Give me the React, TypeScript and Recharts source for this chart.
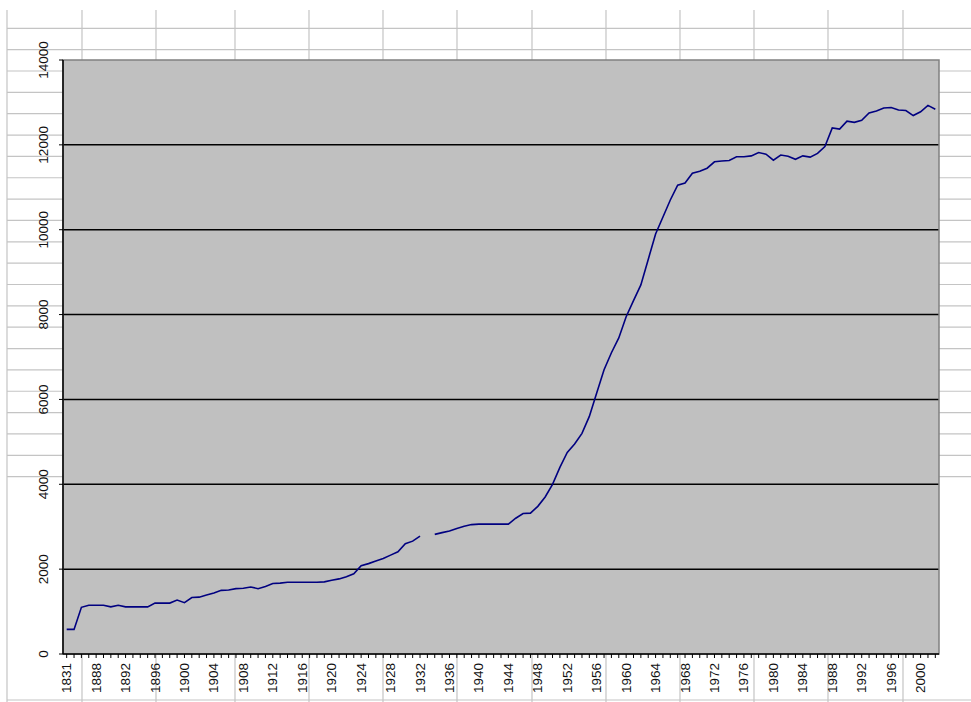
import { LineChart, Line, XAxis, YAxis, CartesianGrid, ReferenceArea } from 'recharts';

// categories: one early year, then every year from 1885
const years = ['1831', ...Array.from({ length: 118 }, (_, i) => String(1885 + i))];

const values: (number | null)[] = [
  580, 580, 1100, 1150, 1150, 1150, 1110, 1150, 1110, 1110,
  1110, 1110, 1200, 1200, 1200, 1270, 1210, 1330, 1340, 1390,
  1440, 1500, 1510, 1540, 1550, 1580, 1540, 1590, 1660, 1670,
  1690, 1690, 1690, 1690, 1690, 1700, 1740, 1770, 1820, 1890,
  2080, 2130, 2190, 2250, 2330, 2410, 2600, 2660, 2780, null,
  2820, 2860, 2900, 2960, 3010, 3050, 3060, 3060, 3060, 3060,
  3060, 3200, 3310, 3320, 3480, 3700, 4000, 4400, 4750, 4950,
  5200, 5600, 6150, 6700, 7100, 7450, 7950, 8330, 8700, 9300,
  9900, 10300, 10700, 11050, 11100, 11330, 11380, 11450, 11600, 11620,
  11630, 11720, 11720, 11740, 11820, 11780, 11640, 11760, 11730, 11660,
  11740, 11710, 11800, 11960, 12400, 12370, 12560, 12530, 12580, 12750,
  12800, 12870, 12880, 12820, 12810, 12690, 12780, 12930, 12840,
];

const yTicks = [0, 2000, 4000, 6000, 8000, 10000, 12000, 14000];
const gridValues = [2000, 4000, 6000, 8000, 10000, 12000];

const data = years.map((year, i) => ({ year, value: values[i] }));

const W = 971;
const H = 702;
const font = 'Arial, "Liberation Sans", sans-serif';

// spreadsheet cell lines behind the chart
const colLines = [7, 82, 156, 235, 309, 383, 457, 532, 606, 680, 754, 828, 903];
const rowLines = Array.from({ length: 22 }, (_, i) => 28.3 + i * 21.35);

function XTick(props: any) {
  const { x, y, index, payload } = props;
  const tx = x + 4.5;
  const ty = y + 9;
  return (
    <g>
      <line x1={x} y1={y} x2={x} y2={y + 4} stroke='#000' />
      {index % 4 === 0 && (
        <text x={tx} y={ty} transform={`rotate(-90, ${tx}, ${ty})`} textAnchor='end' fontSize={13.5} fontFamily={font} fill='#111'>
          {payload.value}
        </text>
      )}
    </g>
  );
}

function YTick(props: any) {
  const { x, y, payload } = props;
  const tx = x - 15;
  return (
    <g>
      <line x1={x - 4} y1={y} x2={x} y2={y} stroke='#000' />
      <text x={tx} y={y} transform={`rotate(-90, ${tx}, ${y})`} textAnchor='middle' fontSize={13.5} fontFamily={font} fill='#111'>
        {payload.value}
      </text>
    </g>
  );
}

export default function App() {
  return (
    <div style={{ position: 'absolute', left: 0, top: 0, width: W, height: H, background: '#fff', overflow: 'hidden' }}>
      <svg width={W} height={H} style={{ position: 'absolute', left: 0, top: 0 }}>
        {colLines.map((x) => (
          <line key={'c' + x} x1={x} y1={10} x2={x} y2={H} stroke='#c4c4c4' strokeWidth={1.2} />
        ))}
        {rowLines.map((y) => (
          <line key={'r' + y} x1={7} y1={y} x2={W} y2={y} stroke='#c4c4c4' strokeWidth={1.2} />
        ))}
        <line x1={7} y1={700} x2={W} y2={700} stroke='#c4c4c4' strokeWidth={1.2} />
      </svg>
      <div style={{ position: 'absolute', left: 0, top: 0 }}>
        <LineChart width={W} height={H} data={data} margin={{ top: 60, right: 32, bottom: 0, left: 0 }}>
          <CartesianGrid fill='#c0c0c0' stroke='#000' strokeWidth={1.5} vertical={false} horizontalValues={gridValues} />
          <ReferenceArea y1={0} y2={14000} fill='none' stroke='#808080' strokeWidth={1.5} ifOverflow='visible' />
          <XAxis
            dataKey='year'
            scale='band'
            interval={0}
            height={48}
            tickSize={0}
            tickMargin={0}
            tickLine={false}
            axisLine={{ stroke: '#000', strokeWidth: 1.5 }}
            tick={<XTick />}
          />
          <YAxis
            domain={[0, 14000]}
            ticks={yTicks}
            interval={0}
            width={63}
            tickSize={0}
            tickMargin={0}
            tickLine={false}
            axisLine={{ stroke: '#000', strokeWidth: 1.5 }}
            tick={<YTick />}
          />
          <Line type='linear' dataKey='value' stroke='#000080' strokeWidth={1.6} dot={false} isAnimationActive={false} />
        </LineChart>
      </div>
    </div>
  );
}
